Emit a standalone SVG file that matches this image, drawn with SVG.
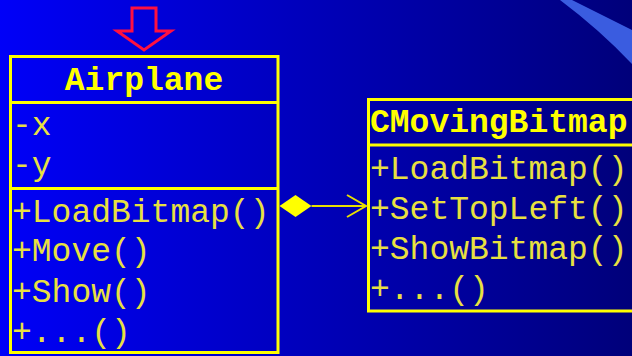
<svg xmlns="http://www.w3.org/2000/svg" width="632" height="356" viewBox="0 0 632 356">
<defs>
<linearGradient id="bg" x1="0" y1="0" x2="1" y2="0">
<stop offset="0" stop-color="#0000F8"/>
<stop offset="1" stop-color="#00007A"/>
</linearGradient>
<marker id="open" markerWidth="22" markerHeight="24" refX="20" refY="12" orient="auto" markerUnits="userSpaceOnUse">
<polyline points="1,1 20,12 1,23" fill="none" stroke="#E8E000" stroke-width="2"/>
</marker>
<style>
.box{fill:none;stroke:#FFFF00;stroke-width:3}
.sep{stroke:#FFFF00;stroke-width:3}
.t{font-family:"Liberation Mono","Courier New",monospace;font-size:33px;fill:#E8E040}
.h{font-family:"Liberation Mono","Courier New",monospace;font-size:33px;font-weight:bold;fill:#FFFF00}
</style>
</defs>
<rect x="0" y="0" width="632" height="356" fill="url(#bg)"/>
<path d="M560,0 L572,0 Q600,14 632,30 L632,64 Q600,30 560,0 Z" fill="#3A5CE0"/>
<polygon points="132,8 156,8 156,31 171,31 144,50 117,31 132,31" fill="none" stroke="#FF1040" stroke-width="3"/>
<g id="airplane">
<rect class="box" x="10.5" y="56.5" width="267.5" height="296"/>
<line class="sep" x1="10.5" y1="102.5" x2="278" y2="102.5"/>
<line class="sep" x1="10.5" y1="188.5" x2="278" y2="188.5"/>
<text class="h" x="144" y="90" text-anchor="middle">Airplane</text>
<text class="t" x="12" y="135">-x</text>
<text class="t" x="12" y="175">-y</text>
<text class="t" x="12" y="222">+LoadBitmap()</text>
<text class="t" x="12" y="261">+Move()</text>
<text class="t" x="12" y="302">+Show()</text>
<text class="t" x="12" y="342">+...()</text>
</g>
<g id="cmovingbitmap">
<rect class="box" x="368.5" y="99.5" width="280" height="211.5"/>
<line class="sep" x1="368.5" y1="145" x2="640" y2="145"/>
<text class="h" x="370" y="132">CMovingBitmap</text>
<text class="t" x="370" y="179">+LoadBitmap()</text>
<text class="t" x="370" y="219">+SetTopLeft()</text>
<text class="t" x="370" y="259">+ShowBitmap()</text>
<text class="t" x="370" y="299">+...()</text>
</g>
<g id="connectors">
<polygon points="279.5,206 295.5,195 311.5,206 295.5,217" fill="#FFFF00"/>
<line x1="311.5" y1="206" x2="366" y2="206" stroke="#E8E000" stroke-width="2" marker-end="url(#open)"/>
</g>
</svg>
